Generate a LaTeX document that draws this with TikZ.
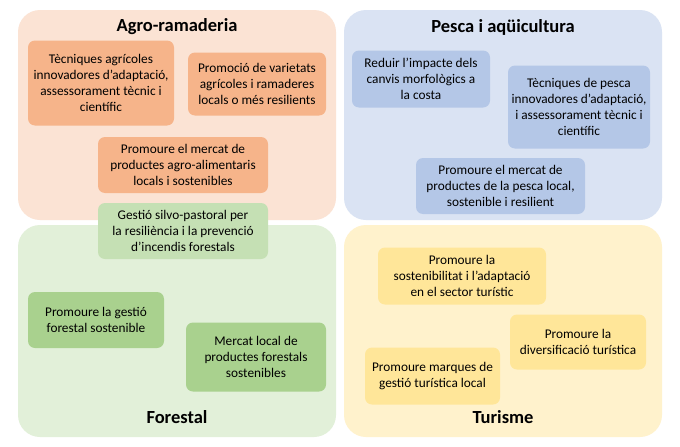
\documentclass[tikz,border=0pt]{standalone}
\usepackage{fontspec}
\setmainfont{Carlito}
\definecolor{agroBg}{HTML}{FBE3D4}
\definecolor{agroBox}{HTML}{F6B48A}
\definecolor{pescaBg}{HTML}{DAE3F3}
\definecolor{pescaBox}{HTML}{B4C7E7}
\definecolor{forBg}{HTML}{E2F0D9}
\definecolor{forBox}{HTML}{A9D18E}
\definecolor{silvo}{HTML}{C5E0B4}
\definecolor{turBg}{HTML}{FFF2CC}
\definecolor{turBox}{HTML}{FFE699}
\begin{document}
\begin{tikzpicture}[x=1pt,y=-1pt,
  bg/.style={rounded corners=22pt,draw=none},
  inner/.style={rounded corners=7pt,draw=none,align=center,font=\fontsize{13.3}{16}\selectfont,inner sep=0pt},
  ttl/.style={font=\fontsize{18.5}{21}\selectfont\bfseries}]
\useasboundingbox (0,0) rectangle (680,447);
\fill[white] (0,0) rectangle (680,447);
\path[bg,fill=forBg] (18,225) rectangle (336,437);
\path[bg,fill=agroBg] (18,10) rectangle (336,220);
\path[bg,fill=pescaBg] (344,10) rectangle (662,220);
\path[bg,fill=turBg] (344,225) rectangle (662,437);
\node[ttl] (tA) at (177,27) {Agro-ramaderia};
\node[ttl] (tP) at (503,27) {Pesca i aqüicultura};
\node[ttl] (tF) at (177,417) {Forestal};
\node[ttl] (tT) at (503,417) {Turisme};
% Agro
\node[inner,fill=agroBox,minimum width=146pt,minimum height=85pt] (a1) at (101,83) {Tècniques agrícoles\\innovadores d’adaptació,\\assessorament tècnic i\\científic};
\node[inner,fill=agroBox,minimum width=138pt,minimum height=63pt] (a2) at (257,84) {Promoció de varietats\\agrícoles i ramaderes\\locals o més resilients};
\node[inner,fill=agroBox,minimum width=170pt,minimum height=56pt] (a3) at (183,165) {Promoure el mercat de\\productes agro-alimentaris\\locals i sostenibles};
\node[inner,fill=silvo,minimum width=170pt,minimum height=56pt] (a4) at (183,231) {Gestió silvo-pastoral per\\la resiliència i la prevenció\\d’incendis forestals};
% Pesca
\node[inner,fill=pescaBox,minimum width=138pt,minimum height=57pt] (p1) at (421,79) {Reduir l’impacte dels\\canvis morfològics a\\la costa};
\node[inner,fill=pescaBox,minimum width=142pt,minimum height=83pt] (p2) at (579,107) {Tècniques de pesca\\innovadores d’adaptació,\\i assessorament tècnic i\\científic};
\node[inner,fill=pescaBox,minimum width=169pt,minimum height=56pt] (p3) at (500.5,186) {Promoure el mercat de\\productes de la pesca local,\\sostenible i resilient};
% Forestal
\node[inner,fill=forBox,minimum width=136pt,minimum height=56pt] (f1) at (96,320) {Promoure la gestió\\forestal sostenible};
\node[inner,fill=forBox,minimum width=140pt,minimum height=69pt] (f2) at (256,357) {Mercat local de\\productes forestals\\sostenibles};
% Turisme
\node[inner,fill=turBox,minimum width=168pt,minimum height=57pt] (t1) at (462,276) {Promoure la\\sostenibilitat i l’adaptació\\en el sector turístic};
\node[inner,fill=turBox,minimum width=136pt,minimum height=55pt] (t2) at (578,342) {Promoure la\\diversificació turística};
\node[inner,fill=turBox,minimum width=135pt,minimum height=57pt] (t3) at (432.5,376) {Promoure marques de\\gestió turística local};
\end{tikzpicture}
\end{document}
